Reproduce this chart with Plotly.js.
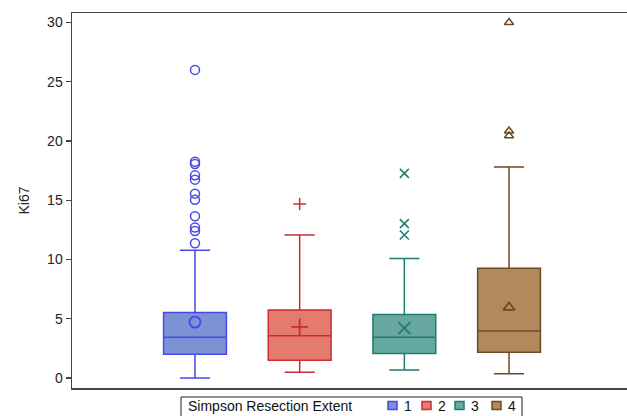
<!DOCTYPE html>
<html>
<head>
<meta charset="utf-8">
<script src="https://cdn.plot.ly/plotly-3.0.1.min.js"></script>
<style>html,body{margin:0;padding:0;background:#fff;overflow:hidden}</style>
</head>
<body>
<div id="chart" style="width:627px;height:416px"></div>
<script>
// Data
const groups = ['1', '2', '3', '4'];
const q1 = [2.0, 1.5, 2.08, 2.17];
const median = [3.45, 3.56, 3.45, 3.96];
const q3 = [5.53, 5.75, 5.37, 9.27];
const lowerFence = [0.0, 0.48, 0.67, 0.36];
const upperFence = [10.78, 12.07, 10.08, 17.8];
const means = [4.72, 4.32, 4.21, 5.96];
const outliers = [
  [11.37, 12.4, 12.7, 13.65, 15.05, 15.56, 16.74, 17.1, 18.05, 18.25, 26.0],
  [14.68],
  [12.07, 13.03, 17.27],
  [20.45, 20.85, 30.0]
];
const yTicks = [0, 5, 10, 15, 20, 25, 30];
const legendTitle = 'Simpson Resection Extent';

const fillColors = ['#7b93d2', '#e37b6f', '#66a89f', '#b08a5c'];
const lineColors = ['#4747ee', '#cc2a38', '#1f7b70', '#6e4a22'];
const symbols = ['circle-open', 'cross-thin-open', 'x-thin-open', 'triangle-up-open'];
const symSizes = [9, 9, 9, 8];
const meanSizes = [11, 12, 12, 10];

const traces = [];
groups.forEach((g, i) => {
  traces.push({
    type: 'box', name: g, x: [i],
    q1: [q1[i]], median: [median[i]], q3: [q3[i]],
    lowerfence: [lowerFence[i]], upperfence: [upperFence[i]],
    width: 0.6, whiskerwidth: 0.48,
    fillcolor: fillColors[i],
    line: {color: lineColors[i], width: 1.5},
    boxpoints: false, hoverinfo: 'skip', showlegend: false
  });
});
groups.forEach((g, i) => {
  traces.push({
    type: 'scatter', mode: 'markers', showlegend: false,
    x: outliers[i].map(() => i), y: outliers[i],
    marker: {symbol: symbols[i], size: symSizes[i], color: lineColors[i], line: {width: 1.5, color: lineColors[i]}},
    hoverinfo: 'y'
  });
  traces.push({
    type: 'scatter', mode: 'markers', showlegend: false,
    x: [i], y: [means[i]],
    marker: {symbol: symbols[i], size: meanSizes[i], color: lineColors[i], line: {width: 1.8, color: lineColors[i]}},
    hoverinfo: 'y'
  });
});

// Custom legend (pixel layout -> paper coordinates)
const M = {l: 72, r: 0, t: 13, b: 28};
const W = 627, H = 416;
const pw = W - M.l - M.r, ph = H - M.t - M.b;
const PX = x => (x - M.l) / pw;
const PY = y => (H - M.b - y) / ph;

const shapes = [{
  type: 'rect', xref: 'paper', yref: 'paper',
  x0: PX(181), x1: PX(522), y0: PY(397), y1: PY(440),
  line: {color: '#222', width: 1}, fillcolor: '#fff', layer: 'above'
}];
const annotations = [{
  xref: 'paper', yref: 'paper', x: PX(186), y: PY(406), xanchor: 'left', yanchor: 'middle',
  text: legendTitle, showarrow: false, font: {size: 14, color: '#111'}
}];
const legendX = [388, 422, 455, 492];
groups.forEach((g, i) => {
  shapes.push({
    type: 'rect', xref: 'paper', yref: 'paper',
    x0: PX(legendX[i]), x1: PX(legendX[i] + 9), y0: PY(401.5), y1: PY(409.5),
    line: {color: lineColors[i], width: 1.5}, fillcolor: fillColors[i], layer: 'above'
  });
  annotations.push({
    xref: 'paper', yref: 'paper', x: PX(legendX[i] + 14), y: PY(406), xanchor: 'left', yanchor: 'middle',
    text: g, showarrow: false, font: {size: 14, color: '#111'}
  });
});

const layout = {
  width: W, height: H,
  margin: {l: M.l, r: M.r, t: M.t, b: M.b, autoexpand: false},
  paper_bgcolor: '#fff', plot_bgcolor: '#fff',
  font: {family: 'Liberation Sans, Arial, sans-serif', size: 14, color: '#222'},
  boxmode: 'overlay',
  showlegend: false,
  xaxis: {
    range: [-1.175, 4.127], showticklabels: false, ticks: '', showgrid: false, zeroline: false,
    showline: true, mirror: true, linecolor: '#444', linewidth: 1.5
  },
  yaxis: {
    range: [-0.84, 30.8], tickvals: yTicks, ticktext: yTicks.map(String),
    ticks: 'outside', ticklen: 5, tickwidth: 1.2, tickcolor: '#444',
    showgrid: false, zeroline: false, showline: true, linecolor: '#444', linewidth: 1.5,
    tickfont: {size: 14, color: '#222'},
    title: {text: 'Ki67', font: {size: 14, color: '#222'}, standoff: 14}
  },
  shapes: shapes,
  annotations: annotations
};

Plotly.newPlot('chart', traces, layout, {displayModeBar: false, staticPlot: true});
</script>
</body>
</html>
